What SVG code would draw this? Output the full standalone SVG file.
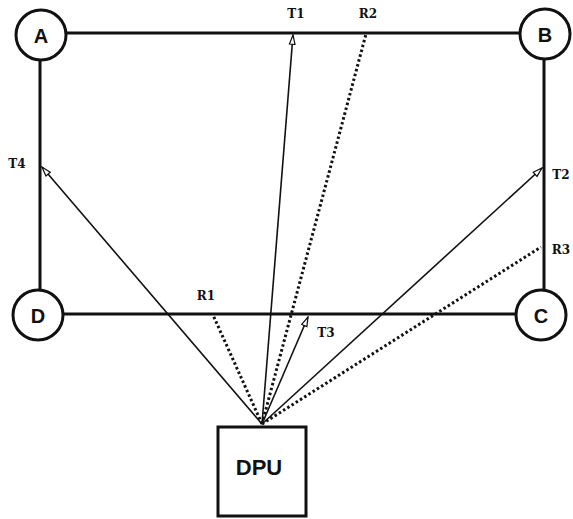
<svg xmlns="http://www.w3.org/2000/svg" width="573" height="519" viewBox="0 0 573 519">
  <style>
    .edge { stroke: #111; stroke-width: 3; fill: none; }
    .ray { stroke: #111; stroke-width: 1.6; fill: none; marker-end: url(#openArrow); }
    .echo { stroke: #111; stroke-width: 3; fill: none; stroke-dasharray: 2.5 2.5; }
    .node circle { fill: #fff; stroke: #111; stroke-width: 3; }
    .node text { font-family: "Liberation Sans", Arial, sans-serif; font-weight: bold; font-size: 20px; fill: #111; text-anchor: middle; dominant-baseline: central; }
    .tag { font-family: "DejaVu Serif", "Liberation Serif", serif; font-weight: bold; font-size: 12px; fill: #111; text-anchor: middle; dominant-baseline: central; }
  </style>
  <defs>
    <marker id="openArrow" viewBox="0 0 12 8" refX="11" refY="4" markerWidth="7" markerHeight="5" markerUnits="strokeWidth" orient="auto">
      <path d="M1,1 L11,4 L1,7 Z" fill="#fff" stroke="#111" stroke-width="1.3"/>
    </marker>
  </defs>
  <rect width="573" height="519" fill="#fff"/>

  <g id="connectors">
    <!-- perimeter -->
    <line class="edge" x1="41" y1="33" x2="544" y2="33"/>
    <line class="edge" x1="41" y1="314" x2="544" y2="314"/>
    <line class="edge" x1="40" y1="34" x2="40" y2="314"/>
    <line class="edge" x1="544" y1="34" x2="544" y2="314"/>
    <!-- reflected (dotted) paths -->
    <line class="echo" x1="262" y1="424" x2="366" y2="34"/>
    <line class="echo" x1="262" y1="424" x2="213" y2="315"/>
    <line class="echo" x1="262" y1="424" x2="541" y2="247"/>
    <!-- transmitted rays -->
    <line class="ray" x1="262" y1="424" x2="293" y2="35"/>
    <line class="ray" x1="262" y1="424" x2="42" y2="167"/>
    <line class="ray" x1="262" y1="424" x2="542" y2="168"/>
    <line class="ray" x1="262" y1="424" x2="308" y2="317"/>
  </g>

  <g id="A" class="node"><circle cx="41" cy="35" r="25"/><text x="41" y="36">A</text></g>
  <g id="B" class="node"><circle cx="545" cy="34" r="25"/><text x="545" y="35">B</text></g>
  <g id="C" class="node"><circle cx="541" cy="315" r="25"/><text x="541" y="316">C</text></g>
  <g id="D" class="node"><circle cx="38" cy="315" r="25"/><text x="38" y="316">D</text></g>
  <g id="DPU" class="node">
    <rect x="218" y="427" width="88" height="89" fill="#fff" stroke="#111" stroke-width="3"/>
    <text x="259" y="467" style="font-size:22px">DPU</text>
  </g>

  <g id="labels">
    <text class="tag" x="296" y="14">T1</text>
    <text class="tag" x="368" y="14">R2</text>
    <text class="tag" x="17" y="164">T4</text>
    <text class="tag" x="561" y="175">T2</text>
    <text class="tag" x="561" y="250">R3</text>
    <text class="tag" x="206" y="296">R1</text>
    <text class="tag" x="326" y="333">T3</text>
  </g>
</svg>
